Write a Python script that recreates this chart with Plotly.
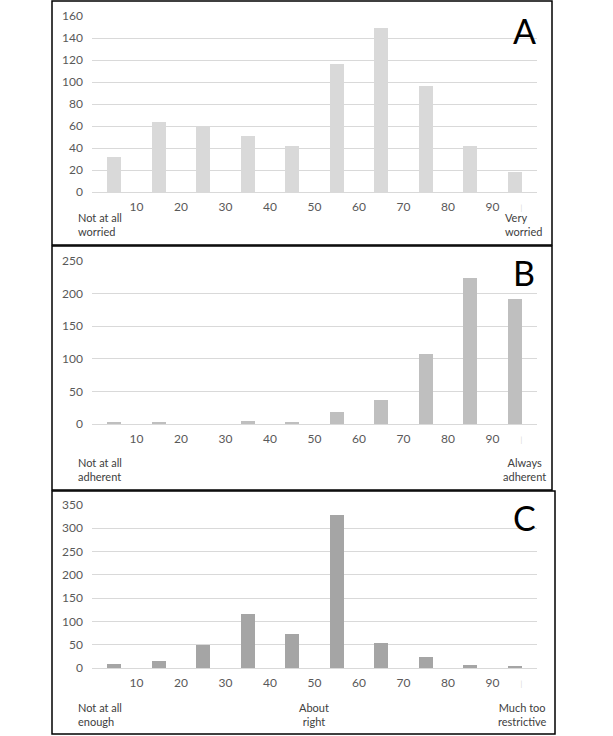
import plotly.graph_objects as go

# bar centres on a 0-100 scale, one bin per decade
bins = [5, 15, 25, 35, 45, 55, 65, 75, 85, 95]
tick_vals = [10, 20, 30, 40, 50, 60, 70, 80, 90, 96.5]
tick_text = ["10", "20", "30", "40", "50", "60", "70", "80", "90",
             "<span style='font-size:7px;color:#d4d4d4'>|</span>"]

worried = [32, 64, 59, 51, 42, 116, 149, 96, 42, 18]
adherent = [2, 3, 0, 5, 3, 19, 37, 107, 224, 192]
restrictive = [8, 16, 49, 117, 74, 328, 53, 23, 6, 3]

W, H = 613, 736
FONT = "Lato, 'Open Sans', sans-serif"


def py(y):
    # pixel row -> paper fraction
    return 1 - y / H


fig = go.Figure()

panels = [
    # values, colour, top px, zero px, ymax, dtick, letter, letter y, border (x0, y0, x1, y1)
    (worried, "#d9d9d9", 16, 192, 160, 20, "A", 30, (52, 1, 552, 245)),
    (adherent, "#bfbfbf", 261, 424, 250, 50, "B", 272, (52, 246, 552, 490)),
    (restrictive, "#a5a5a5", 505, 668, 350, 50, "C", 517, (52, 491, 555, 734)),
]

for i, (vals, colour, top, zero, ymax, dt, letter, ly, box) in enumerate(panels, start=1):
    sfx = "" if i == 1 else str(i)
    fig.add_trace(
        go.Bar(
            x=bins, y=vals, width=3.1, marker=dict(color=colour, line=dict(width=0)),
            xaxis="x" + sfx, yaxis="y" + sfx, showlegend=False, hoverinfo="skip",
        )
    )
    fig.update_layout(
        {
            "xaxis" + sfx: dict(
                domain=[92 / W, 537 / W], range=[0, 100], anchor="y" + sfx,
                tickvals=tick_vals, ticktext=tick_text, showgrid=False, zeroline=False,
                showline=False, ticks="", ticklabelstandoff=6, automargin=False,
                tickfont=dict(family=FONT, size=12, color="#595959"),
            ),
            "yaxis" + sfx: dict(
                domain=[py(zero), py(top)], range=[0, ymax], anchor="x" + sfx,
                dtick=dt, showgrid=True, gridcolor="#d9d9d9", gridwidth=1,
                zeroline=True, zerolinecolor="#d9d9d9", zerolinewidth=1,
                showline=False, ticks="", ticklabelstandoff=8, automargin=False,
                tickfont=dict(family=FONT, size=12, color="#595959"),
            ),
        }
    )
    x0, y0, x1, y1 = box
    fig.add_shape(type="rect", xref="paper", yref="paper",
                  x0=x0 / W, x1=x1 / W, y0=py(y1), y1=py(y0),
                  line=dict(color="black", width=1.5))
    fig.add_annotation(x=524 / W, y=py(ly), xref="paper", yref="paper", text=letter,
                       showarrow=False, xanchor="center", yanchor="middle",
                       font=dict(family=FONT, size=34, color="black"))

end_labels = [
    ("Not at all<br>worried", 76, 224, "left"),
    ("Very<br>worried", 503, 224, "left"),
    ("Not at all<br>adherent", 76, 469, "left"),
    ("Always<br>adherent", 524, 469, "center"),
    ("Not at all<br>enough", 76, 714, "left"),
    ("About<br>right", 314, 714, "center"),
    ("Much too<br>restrictive", 522, 714, "center"),
]
for text, x, y, al in end_labels:
    fig.add_annotation(x=x / W, y=py(y), xref="paper", yref="paper", text=text,
                       showarrow=False, xanchor=al, yanchor="middle", align=al,
                       font=dict(family=FONT, size=11, color="#404040"))

fig.update_layout(
    width=W, height=H, autosize=False, margin=dict(l=0, r=0, t=0, b=0, pad=0, autoexpand=False),
    paper_bgcolor="white", plot_bgcolor="white", bargap=0,
)

# drop the default body margin so the 613x736 figure fills the window exactly
fig.write_html(
    "out.html",
    config={"displayModeBar": False},
    post_script="document.body.style.margin='0';document.body.style.overflow='hidden';",
)
